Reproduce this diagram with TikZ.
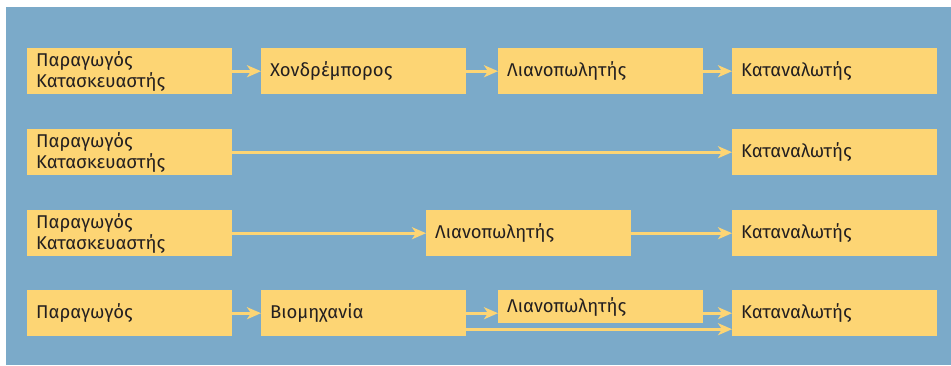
\documentclass[tikz,border=0pt]{standalone}
\usepackage{fontspec}
\setmainfont{Fira Sans}
\usetikzlibrary{arrows.meta}
\definecolor{panelblue}{HTML}{7BAAC9}
\definecolor{boxyellow}{HTML}{FDD574}
\definecolor{inkdark}{HTML}{231F20}
\tikzset{
  x=1pt, y=-1pt,
  stagebox/.style={fill=boxyellow, draw=none, anchor=north west,
    minimum width=205pt, minimum height=46pt, text width=187pt,
    inner xsep=9pt, inner ysep=0pt, align=left, text=inkdark,
    font=\fontsize{18.5}{21}\selectfont},
  flow/.style={draw=boxyellow, line width=3pt,
    -{Stealth[length=14pt,width=12pt,inset=4pt]}}
}
\begin{document}
\begin{tikzpicture}
\useasboundingbox (0,0) rectangle (951,365);
\fill[panelblue] (6,7) rectangle (951,365);

% first chain: producer -> wholesaler -> retailer -> consumer
\node[stagebox] (p1) at (27,48) {Παραγωγός\\Κατασκευαστής};
\node[stagebox] (w1) at (261,48) {Χονδρέμπορος};
\node[stagebox] (r1) at (498,48) {Λιανοπωλητής};
\node[stagebox] (c1) at (732,48) {Καταναλωτής};
\draw[flow] (p1.east) -- (w1.west);
\draw[flow] (w1.east) -- (r1.west);
\draw[flow] (r1.east) -- (c1.west);

% second chain: direct sale
\node[stagebox] (p2) at (27,129) {Παραγωγός\\Κατασκευαστής};
\node[stagebox] (c2) at (732,129) {Καταναλωτής};
\draw[flow] (p2.east) -- (c2.west);

% third chain: through the retailer
\node[stagebox] (p3) at (27,210) {Παραγωγός\\Κατασκευαστής};
\node[stagebox] (r3) at (426,210) {Λιανοπωλητής};
\node[stagebox] (c3) at (732,210) {Καταναλωτής};
\draw[flow] (p3.east) -- (r3.west);
\draw[flow] (r3.east) -- (c3.west);

% fourth chain: producer -> industry -> (retailer) -> consumer
\node[stagebox] (p4) at (27,290) {Παραγωγός};
\node[stagebox] (i4) at (261,290) {Βιομηχανία};
\node[stagebox, minimum height=33pt] (r4) at (498,290) {Λιανοπωλητής};
\node[stagebox] (c4) at (732,290) {Καταναλωτής};
\draw[flow] (p4.east) -- (i4.west);
\draw[flow] (i4.east) -- (i4.east -| r4.west);
\draw[flow] (i4.east -| r4.east) -- (c4.west);
\draw[flow] ([yshift=-16pt]i4.east) -- ([yshift=-16pt]c4.west);
\end{tikzpicture}
\end{document}
